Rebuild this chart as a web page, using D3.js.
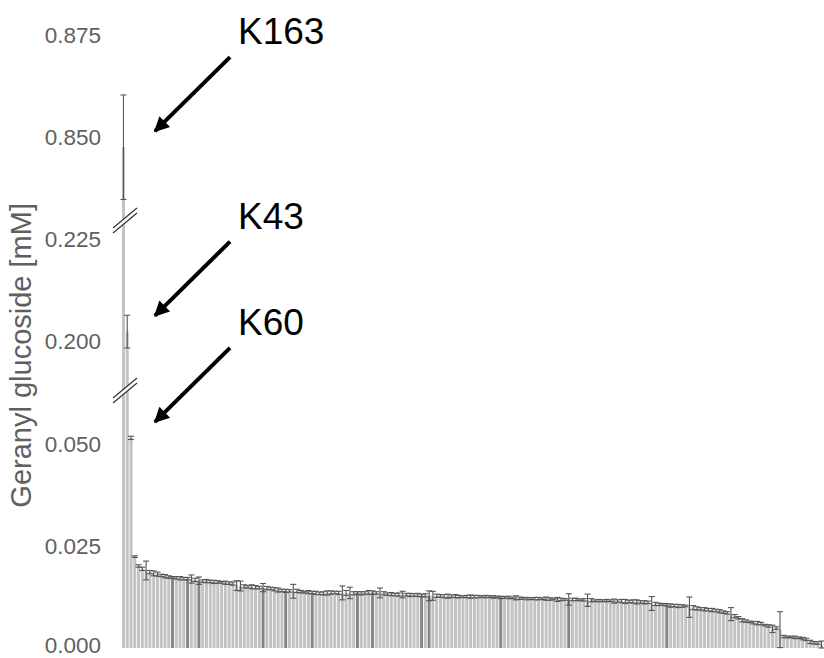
<!DOCTYPE html>
<html>
<head>
<meta charset="utf-8">
<script src="https://cdn.jsdelivr.net/npm/d3@7"></script>
<style>
body { margin: 0; background: #fff; }
text { font-family: "Liberation Sans", Arial, sans-serif; }
</style>
</head>
<body>
<div id="chart"></div>
<script>
// mean geranyl glucoside per strain (mM), sorted high to low
var values = [
  0.8475, 0.2023, 0.0515, 0.0224, 0.0201, 0.0194, 0.0190, 0.0186, 0.0183, 0.0181,
  0.0178, 0.0176, 0.0174, 0.0173, 0.0172, 0.0171, 0.0170, 0.0170, 0.0169, 0.0167,
  0.0165, 0.0164, 0.0164, 0.0163, 0.0162, 0.0162, 0.0161, 0.0160, 0.0159, 0.0158,
  0.0153, 0.0152, 0.0151, 0.0150, 0.0150, 0.0149, 0.0148, 0.0148, 0.0147, 0.0146,
  0.0144, 0.0142, 0.0141, 0.0140, 0.0140, 0.0139, 0.0140, 0.0138, 0.0137, 0.0137,
  0.0136, 0.0135, 0.0134, 0.0134, 0.0135, 0.0136, 0.0136, 0.0135, 0.0135, 0.0135,
  0.0135, 0.0134, 0.0135, 0.0134, 0.0135, 0.0136, 0.0136, 0.0135, 0.0135, 0.0134,
  0.0132, 0.0132, 0.0131, 0.0131, 0.0131, 0.0131, 0.0130, 0.0130, 0.0130, 0.0129,
  0.0129, 0.0128, 0.0128, 0.0128, 0.0128, 0.0127, 0.0127, 0.0127, 0.0127, 0.0126,
  0.0126, 0.0126, 0.0126, 0.0126, 0.0126, 0.0126, 0.0126, 0.0126, 0.0125, 0.0125,
  0.0124, 0.0124, 0.0124, 0.0123, 0.0123, 0.0122, 0.0122, 0.0121, 0.0121, 0.0121,
  0.0121, 0.0121, 0.0121, 0.0120, 0.0120, 0.0119, 0.0119, 0.0119, 0.0119, 0.0119,
  0.0119, 0.0118, 0.0118, 0.0117, 0.0117, 0.0116, 0.0116, 0.0116, 0.0116, 0.0116,
  0.0115, 0.0115, 0.0115, 0.0114, 0.0114, 0.0114, 0.0113, 0.0113, 0.0112, 0.0112,
  0.0109, 0.0108, 0.0107, 0.0107, 0.0106, 0.0104, 0.0104, 0.0103, 0.0103, 0.0103,
  0.0100, 0.0099, 0.0097, 0.0096, 0.0095, 0.0094, 0.0093, 0.0092, 0.0090, 0.0088,
  0.0086, 0.0083, 0.0078, 0.0074, 0.0068, 0.0066, 0.0064, 0.0062, 0.0061, 0.0060,
  0.0056, 0.0054, 0.0047, 0.0049, 0.0045, 0.0028, 0.0027, 0.0027, 0.0026, 0.0025,
  0.0023, 0.0021, 0.0015, 0.0013, 0.0012, 0.0007
];
var errors = [
  0.0128, 0.0040, 0.0004, 0.0002, 0.0003, 0.0004, 0.0023, 0.0004, 0.0006, 0.0005,
  0.0003, 0.0004, 0.0003, 0.0002, 0.0003, 0.0004, 0.0003, 0.0003, 0.0010, 0.0004,
  0.0009, 0.0003, 0.0004, 0.0003, 0.0004, 0.0003, 0.0002, 0.0004, 0.0003, 0.0004,
  0.0012, 0.0012, 0.0004, 0.0003, 0.0005, 0.0004, 0.0003, 0.0010, 0.0004, 0.0003,
  0.0004, 0.0005, 0.0003, 0.0004, 0.0003, 0.0017, 0.0004, 0.0003, 0.0002, 0.0004,
  0.0003, 0.0004, 0.0003, 0.0004, 0.0005, 0.0004, 0.0003, 0.0004, 0.0017, 0.0006,
  0.0014, 0.0004, 0.0003, 0.0004, 0.0003, 0.0005, 0.0004, 0.0003, 0.0012, 0.0004,
  0.0003, 0.0004, 0.0003, 0.0004, 0.0008, 0.0003, 0.0004, 0.0003, 0.0004, 0.0003,
  0.0004, 0.0012, 0.0011, 0.0004, 0.0003, 0.0004, 0.0005, 0.0003, 0.0004, 0.0003,
  0.0002, 0.0003, 0.0004, 0.0003, 0.0003, 0.0002, 0.0003, 0.0002, 0.0003, 0.0002,
  0.0003, 0.0002, 0.0003, 0.0002, 0.0005, 0.0003, 0.0002, 0.0003, 0.0002, 0.0003,
  0.0003, 0.0002, 0.0004, 0.0003, 0.0002, 0.0005, 0.0003, 0.0002, 0.0014, 0.0003,
  0.0003, 0.0002, 0.0003, 0.0015, 0.0004, 0.0002, 0.0003, 0.0002, 0.0003, 0.0002,
  0.0005, 0.0003, 0.0004, 0.0005, 0.0003, 0.0004, 0.0005, 0.0003, 0.0004, 0.0003,
  0.0017, 0.0004, 0.0003, 0.0002, 0.0003, 0.0004, 0.0003, 0.0004, 0.0003, 0.0002,
  0.0025, 0.0005, 0.0004, 0.0003, 0.0004, 0.0003, 0.0004, 0.0003, 0.0004, 0.0003,
  0.0003, 0.0016, 0.0004, 0.0003, 0.0004, 0.0003, 0.0002, 0.0003, 0.0004, 0.0003,
  0.0002, 0.0003, 0.0009, 0.0003, 0.0044, 0.0003, 0.0002, 0.0002, 0.0003, 0.0002,
  0.0003, 0.0003, 0.0004, 0.0003, 0.0003, 0.0010
];
// bars drawn in the darker grey
var darkBars = [13, 17, 20, 37, 43, 50, 62, 66, 79, 81, 100, 118, 144];
var tickValues = [0, 0.025, 0.05, 0.2, 0.225, 0.85, 0.875];
var labels = ["K163", "K43", "K60"];   // first three bars

var width = 824, height = 658;
var svg = d3.select("#chart").append("svg")
    .attr("width", width)
    .attr("height", height);

// broken y axis: three pieces stacked on top of each other
var segments = [
  { domain: [0, 0.05],     range: [648, 444], top: 391, bottom: 648 },
  { domain: [0.2, 0.225],  range: [341, 239], top: 221, bottom: 391 },
  { domain: [0.85, 0.875], range: [137, 35],  top: 15,  bottom: 221 }
];
segments.forEach(function(s) {
  s.scale = d3.scaleLinear().domain(s.domain).range(s.range);
  s.lo = s.scale.invert(s.bottom);
  s.hi = s.scale.invert(s.top);
});
function y(v) {
  for (var k = 0; k < segments.length; k++) {
    if (v <= segments[k].hi) return segments[k].scale(Math.max(v, segments[k].lo));
  }
  return segments[segments.length - 1].scale(v);
}

var x = d3.scaleBand()
    .domain(d3.range(values.length))
    .range([122, 823])
    .paddingInner(0.22);

// bar pieces, one per segment the bar reaches into
var pieces = [];
values.forEach(function(v, i) {
  segments.forEach(function(s) {
    if (v > s.lo) pieces.push({ i: i, y0: s.scale(Math.min(v, s.hi)), y1: s.bottom });
  });
});

svg.append("g").selectAll("rect")
    .data(pieces)
    .enter()
    .append("rect")
    .attr("x", function(d) { return x(d.i); })
    .attr("y", function(d) { return d.y0; })
    .attr("width", x.bandwidth())
    .attr("height", function(d) { return d.y1 - d.y0; })
    .style("fill", function(d) { return darkBars.indexOf(d.i) >= 0 ? "#858585" : "#c2c2c2"; });

// error bars
var eb = svg.append("g").selectAll("g")
    .data(values)
    .enter()
    .append("g")
    .attr("transform", function(d, i) { return "translate(" + (x(i) + x.bandwidth() / 2) + ",0)"; })
    .style("stroke", "#555")
    .style("stroke-width", 1.1);
eb.append("line")
    .attr("y1", function(d, i) { return y(d - errors[i]); })
    .attr("y2", function(d, i) { return y(d + errors[i]); });
eb.append("line")
    .attr("x1", -3).attr("x2", 3)
    .attr("y1", function(d, i) { return y(d + errors[i]); })
    .attr("y2", function(d, i) { return y(d + errors[i]); });
eb.append("line")
    .attr("x1", -3).attr("x2", 3)
    .attr("y1", function(d, i) { return y(d - errors[i]); })
    .attr("y2", function(d, i) { return y(d - errors[i]); });

// tick labels per segment
segments.forEach(function(s) {
  var ax = d3.axisLeft(s.scale)
      .tickValues(tickValues.filter(function(t) { return t >= s.lo && t <= s.hi; }))
      .tickSize(0)
      .tickPadding(0)
      .tickFormat(d3.format(".3f"));
  var g = svg.append("g").attr("transform", "translate(101,0)").call(ax);
  g.select(".domain").remove();
  g.selectAll("text")
      .attr("dy", function(d) { return d === 0 ? "0.2em" : "0.32em"; })
      .style("font-size", "22.5px")
      .style("font-family", "'Liberation Sans', Arial, sans-serif")
      .style("fill", "#5f5f5f");
});

// axis break marks
[segments[0].top, segments[1].top].forEach(function(by) {
  var g = svg.append("g").attr("transform", "translate(125," + by + ")");
  g.append("polygon")
      .attr("points", "-12,7 12,-13 12,-8 -12,12")
      .style("fill", "#fff");
  g.append("line").attr("x1", -12).attr("y1", 7).attr("x2", 12).attr("y2", -13)
      .style("stroke", "#333").style("stroke-width", 1.2);
  g.append("line").attr("x1", -12).attr("y1", 12).attr("x2", 12).attr("y2", -8)
      .style("stroke", "#333").style("stroke-width", 1.2);
});

// y axis title
svg.append("text")
    .attr("transform", "translate(31,203) rotate(-90)")
    .attr("text-anchor", "end")
    .style("font-size", "29px")
    .style("fill", "#5f5f5f")
    .text("Geranyl glucoside [mM]");

// annotations with arrows
svg.append("defs").append("marker")
    .attr("id", "head")
    .attr("viewBox", "0 0 10 10")
    .attr("refX", 9).attr("refY", 5)
    .attr("markerWidth", 4.4).attr("markerHeight", 3.8)
    .attr("markerUnits", "strokeWidth")
    .attr("orient", "auto")
    .append("path")
    .attr("d", "M0,0 L10,5 L0,10 Z")
    .style("fill", "#000");

var tipX = x(0) + 33;
labels.forEach(function(lab, i) {
  var tipY = y(values[i]) - 16;
  var tailX = tipX + 75, tailY = tipY - 74;
  svg.append("line")
      .attr("x1", tailX).attr("y1", tailY)
      .attr("x2", tipX).attr("y2", tipY)
      .style("stroke", "#000")
      .style("stroke-width", 4)
      .attr("marker-end", "url(#head)");
  svg.append("text")
      .attr("x", tailX + 8)
      .attr("y", tailY - 13)
      .style("font-size", "37px")
      .style("fill", "#000")
      .text(lab);
});
</script>
</body>
</html>
